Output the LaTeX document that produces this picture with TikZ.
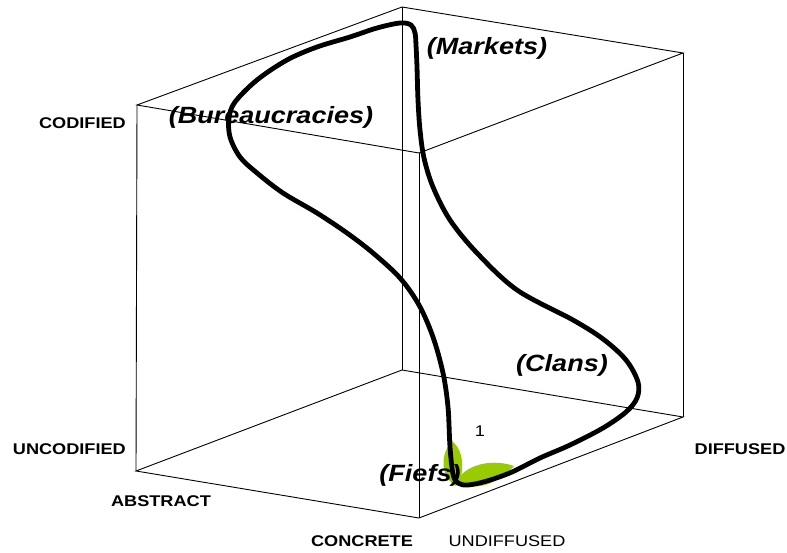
\documentclass[tikz,border=0pt]{standalone}
\usepackage{fontspec}
\usepackage{graphicx}
\setmainfont{Liberation Sans}
\definecolor{leafgreen}{HTML}{99CC00}
\newcommand\hstretch[2]{\scalebox{#1}[1]{#2}}
\begin{document}
\begin{tikzpicture}[x=1pt,y=-1pt,
  edge/.style={draw=black,line width=0.9pt},
  axislabel/.style={font=\fontsize{15.5}{15.5}\selectfont\bfseries,inner sep=0pt},
  plainlabel/.style={font=\fontsize{15.5}{15.5}\selectfont,inner sep=0pt},
  formlabel/.style={font=\fontsize{23.5}{23.5}\selectfont\bfseries\itshape,inner sep=0pt},
  loop/.style={draw=black,line width=4.8pt,line join=round},
  leaf/.style={fill=leafgreen,draw=none}]
\useasboundingbox (0,0) rectangle (787,553);
% cube vertices
\coordinate (A) at (402,7);
\coordinate (B) at (137,105);
\coordinate (C) at (419,153);
\coordinate (D) at (683,53);
\coordinate (E) at (136,471);
\coordinate (F) at (419,518);
\coordinate (G) at (683,417);
\coordinate (H) at (402,370);
% leaves
\path[leaf] (452,441) .. controls (466,452) and (464,478) .. (456,486) .. controls (444,480) and (437,458) .. (452,441) -- cycle;
\path[leaf] (457,480) .. controls (468,463) and (494,459) .. (514,466) .. controls (500,481) and (476,495) .. (457,480) -- cycle;
% cube edges
\draw[edge] (A) -- (B) -- (C) -- (D) -- cycle;
\draw[edge] (E) -- (F) -- (G) -- (H) -- cycle;
\draw[edge] (A) -- (H);
\draw[edge] (B) -- (E);
\draw[edge] (C) -- (F);
\draw[edge] (D) -- (G);
% loop
\draw[loop] plot[smooth cycle,tension=0.55] coordinates {
  (458,483) (453,474) (450,447) (448,407) (443,373) (433,337) (419,305)
  (400,278) (373,253) (347,233) (317,213) (283,193) (257,173) (240,157)
  (230,137) (229,118) (235,102) (257,80) (287,60) (317,47) (350,37)
  (377,28) (400,23) (411,25) (415,33) (416,45) (417,67) (418,100)
  (420,130) (424,158) (433,187) (450,220) (477,253) (517,290) (573,320)
  (603,339) (626,360) (638,382) (637,398) (626,412) (603,428) (570,445)
  (540,458) (512,472) (487,481) (468,485)};
% labels
\node[axislabel,anchor=base east] (codified) at (126,128.5) {\hstretch{1.17}{CODIFIED}};
\node[axislabel,anchor=base east] (uncodified) at (126,454.5) {\hstretch{1.17}{UNCODIFIED}};
\node[axislabel,anchor=base] (abstract) at (161,506.5) {\hstretch{1.17}{ABSTRACT}};
\node[axislabel,anchor=base] (concrete) at (362,546.5) {\hstretch{1.17}{CONCRETE}};
\node[plainlabel,anchor=base] (undiffused) at (507,546.5) {\hstretch{1.17}{UNDIFFUSED}};
\node[axislabel,anchor=base] (diffused) at (740,454.5) {\hstretch{1.17}{DIFFUSED}};
\node[plainlabel,anchor=base] (one) at (480,436.5) {\hstretch{1.17}{1}};
\node[formlabel,anchor=base] (markets) at (487,55) {\hstretch{1.15}{(Markets)}};
\node[formlabel,anchor=base] (bureau) at (271,124) {\hstretch{1.15}{(Bureaucracies)}};
\node[formlabel,anchor=base] (clans) at (562,371) {\hstretch{1.15}{(Clans)}};
\node[formlabel,anchor=base] (fiefs) at (420,481) {\hstretch{1.15}{(Fiefs)}};
\end{tikzpicture}
\end{document}
